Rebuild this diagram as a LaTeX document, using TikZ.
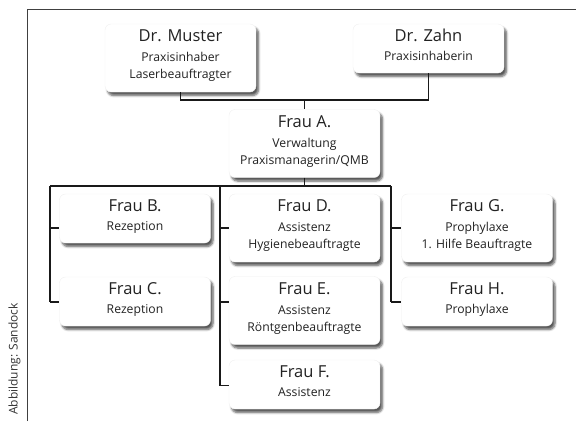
\documentclass[tikz,border=0pt]{standalone}
\usepackage{fontspec}
\setmainfont{Open Sans}
\usetikzlibrary{shadows.blur}
\definecolor{txt}{HTML}{222222}
\tikzset{
  orgbox/.style={rounded corners=6pt, fill=white, draw=black!6, line width=0.4pt,
    blur shadow={shadow xshift=2.5pt, shadow yshift=-3.5pt, shadow blur steps=6, shadow opacity=65},
    minimum width=151pt, inner sep=0pt},
  tall/.style={minimum height=68pt},
  short/.style={minimum height=49pt},
  ttl/.style={anchor=base, font=\fontsize{16.5}{18}\selectfont, text=txt, inner sep=0pt},
  sub/.style={anchor=base, font=\fontsize{12.2}{13}\selectfont, text=txt, inner sep=0pt},
  conn/.style={draw=black!90, line width=1.1pt},
  frame/.style={draw=black!75, line width=0.8pt}
}
\begin{document}
\begin{tikzpicture}[x=1pt,y=-1pt]
\useasboundingbox (0,0) rectangle (576,421);
% frame
\coordinate (fb) at (27,421);
\coordinate (ft) at (27,9);
\coordinate (fr) at (576,9);
\draw[frame] (fb) -- (ft) -- (fr);
\node[rotate=90, font=\fontsize{12}{14}\selectfont, text=black!80, inner sep=0pt] (credit) at (14.5,359) {Abbildung: Sandock};

% boxes
\node[orgbox, tall] (mus) at (180.5,58) {};
\node[orgbox, short] (zahn) at (428.5,48.5) {};
\node[orgbox, tall] (A) at (304.5,143.5) {};
\node[orgbox, short] (B) at (135,218.5) {};
\node[orgbox, short] (C) at (135,301.5) {};
\node[orgbox, tall] (D) at (304.5,228) {};
\node[orgbox, tall] (E) at (304.5,310.5) {};
\node[orgbox, short] (F) at (304.5,384.5) {};
\node[orgbox, tall] (G) at (477,228) {};
\node[orgbox, short] (H) at (477,301.5) {};

% texts
\node[ttl] (musT) at ([yshift=-18pt]mus.north) {Dr. Muster};
\node[sub] (musS1) at ([yshift=-38pt]mus.north) {Praxisinhaber};
\node[sub] (musS2) at ([yshift=-55pt]mus.north) {Laserbeauftragter};
\node[ttl] (zahnT) at ([yshift=-18pt]zahn.north) {Dr. Zahn};
\node[sub] (zahnS1) at ([yshift=-37pt]zahn.north) {Praxisinhaberin};
\node[ttl] (AT) at ([yshift=-18pt]A.north) {Frau A.};
\node[sub] (AS1) at ([yshift=-38pt]A.north) {Verwaltung};
\node[sub] (AS2) at ([yshift=-55pt]A.north) {Praxismanagerin/QMB};
\node[ttl] (BT) at ([yshift=-18pt]B.north) {Frau B.};
\node[sub] (BS1) at ([yshift=-37pt]B.north) {Rezeption};
\node[ttl] (CT) at ([yshift=-18pt]C.north) {Frau C.};
\node[sub] (CS1) at ([yshift=-37pt]C.north) {Rezeption};
\node[ttl] (DT) at ([yshift=-18pt]D.north) {Frau D.};
\node[sub] (DS1) at ([yshift=-38pt]D.north) {Assistenz};
\node[sub] (DS2) at ([yshift=-55pt]D.north) {Hygienebeauftragte};
\node[ttl] (ET) at ([yshift=-18pt]E.north) {Frau E.};
\node[sub] (ES1) at ([yshift=-38pt]E.north) {Assistenz};
\node[sub] (ES2) at ([yshift=-55pt]E.north) {Röntgenbeauftragte};
\node[ttl] (FT) at ([yshift=-18pt]F.north) {Frau F.};
\node[sub] (FS1) at ([yshift=-37pt]F.north) {Assistenz};
\node[ttl] (GT) at ([yshift=-18pt]G.north) {Frau G.};
\node[sub] (GS1) at ([yshift=-38pt]G.north) {Prophylaxe};
\node[sub] (GS2) at ([yshift=-55pt]G.north) {1. Hilfe Beauftragte};
\node[ttl] (HT) at ([yshift=-18pt]H.north) {Frau H.};
\node[sub] (HS1) at ([yshift=-37pt]H.north) {Prophylaxe};

% junction coordinates
\coordinate (top) at (304.5,100);
\coordinate (lb) at (50,186);
\coordinate (mb) at (220,186);
\coordinate (rb) at (391,186);
\coordinate (r1) at (0,228);
\coordinate (r2) at (0,302);
\coordinate (r3) at (0,385.5);

% connectors
\draw[conn] (mus.south) |- (top) -| (zahn.south);
\draw[conn] (top) -- (A.north);
\draw[conn] (A.south) -- (A.south |- lb);
\draw[conn] (lb) -- (rb);
\draw[conn] (lb) -- (lb |- r2);
\draw[conn] (mb) -- (mb |- r3);
\draw[conn] (rb) -- (rb |- r2);
\draw[conn] (lb |- r1) -- (B.west |- r1);
\draw[conn] (lb |- r2) -- (C.west |- r2);
\draw[conn] (mb |- r1) -- (D.west |- r1);
\draw[conn] (mb |- r2) -- (E.west |- r2);
\draw[conn] (mb |- r3) -- (F.west |- r3);
\draw[conn] (rb |- r1) -- (G.west |- r1);
\draw[conn] (rb |- r2) -- (H.west |- r2);
\end{tikzpicture}
\end{document}
